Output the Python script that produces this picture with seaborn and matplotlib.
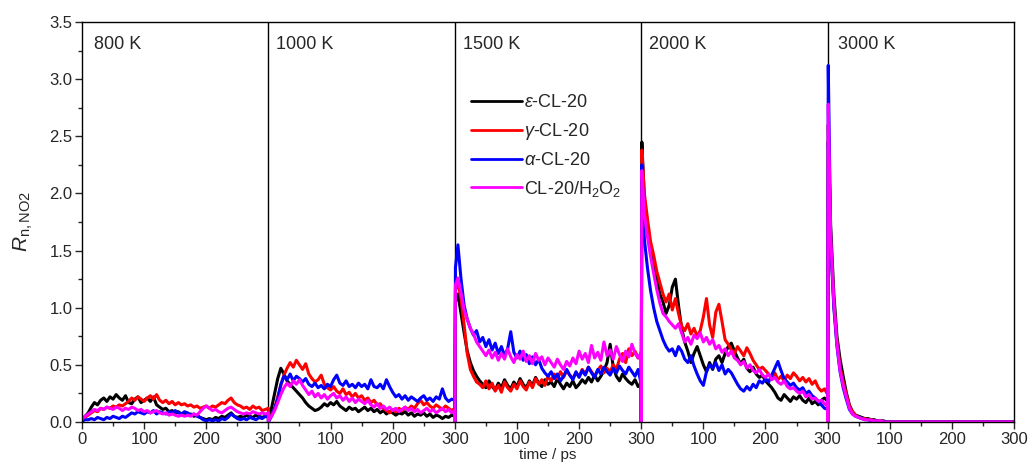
import numpy as np
import pandas as pd
import matplotlib
matplotlib.use("Agg")
import matplotlib.pyplot as plt
from matplotlib.ticker import MultipleLocator, FixedLocator, FormatStrFormatter
import seaborn as sns

# ---------------------------------------------------------------------------
# Data: R_n,NO2 versus simulation time for each temperature stage.
# Every stage runs 0-300 ps; samples at t = 0, 1, 5, 10, ..., 300 ps.
# ---------------------------------------------------------------------------
stage_labels = ["800 K", "1000 K", "1500 K", "2000 K", "3000 K"]
stage_length = 300
stage_time = [0, 1] + list(range(5, 301, 5))

series_names = [r"$\varepsilon$-CL-20", r"$\gamma$-CL-20", r"$\alpha$-CL-20",
                r"CL-20/H$\mathregular{_2}$O$\mathregular{_2}$"]
series_colors = ["#000000", "#ff0000", "#0000ff", "#ff00ff"]

# --- 800 K ---
eps_800 = [0.03, 0.03,
           0.05, 0.08, 0.13, 0.17, 0.15, 0.19, 0.21, 0.18, 0.22, 0.20,
           0.24, 0.21, 0.19, 0.23, 0.17, 0.16, 0.20, 0.22, 0.17, 0.19,
           0.21, 0.18, 0.22, 0.15, 0.13, 0.11, 0.12, 0.09, 0.10, 0.08,
           0.09, 0.07, 0.08, 0.06, 0.07, 0.05, 0.06, 0.04, 0.03, 0.02,
           0.03, 0.02, 0.04, 0.03, 0.05, 0.04, 0.06, 0.08, 0.05, 0.04,
           0.05, 0.04, 0.06, 0.05, 0.04, 0.06, 0.05, 0.04, 0.05, 0.06]
gam_800 = [0.02, 0.02,
           0.04, 0.06, 0.08, 0.10, 0.09, 0.12, 0.11, 0.13, 0.12, 0.14,
           0.13, 0.15, 0.14, 0.16, 0.18, 0.21, 0.19, 0.22, 0.20, 0.18,
           0.21, 0.23, 0.20, 0.24, 0.19, 0.17, 0.19, 0.16, 0.18, 0.15,
           0.17, 0.15, 0.16, 0.14, 0.15, 0.13, 0.14, 0.12, 0.13, 0.14,
           0.12, 0.14, 0.13, 0.15, 0.17, 0.16, 0.19, 0.21, 0.17, 0.15,
           0.14, 0.12, 0.13, 0.11, 0.14, 0.12, 0.13, 0.10, 0.11, 0.12]
alp_800 = [0.01, 0.01,
           0.02, 0.02, 0.03, 0.02, 0.04, 0.03, 0.02, 0.04, 0.03, 0.05,
           0.04, 0.03, 0.05, 0.04, 0.06, 0.08, 0.07, 0.09, 0.08, 0.07,
           0.09, 0.08, 0.10, 0.07, 0.09, 0.08, 0.07, 0.09, 0.08, 0.10,
           0.08, 0.07, 0.09, 0.08, 0.06, 0.07, 0.05, 0.04, 0.02, 0.01,
           0.02, 0.01, 0.02, 0.01, 0.03, 0.02, 0.04, 0.07, 0.05, 0.03,
           0.02, 0.03, 0.02, 0.04, 0.03, 0.02, 0.04, 0.03, 0.05, 0.04]
mag_800 = [0.02, 0.03,
           0.05, 0.07, 0.09, 0.11, 0.10, 0.12, 0.11, 0.13, 0.12, 0.11,
           0.13, 0.12, 0.10, 0.12, 0.11, 0.13, 0.12, 0.10, 0.11, 0.09,
           0.10, 0.08, 0.09, 0.10, 0.08, 0.07, 0.08, 0.06, 0.07, 0.06,
           0.05, 0.06, 0.05, 0.06, 0.05, 0.07, 0.06, 0.09, 0.12, 0.14,
           0.12, 0.10, 0.11, 0.09, 0.08, 0.10, 0.12, 0.13, 0.11, 0.09,
           0.08, 0.07, 0.08, 0.07, 0.09, 0.08, 0.07, 0.08, 0.07, 0.08]

# --- 1000 K ---
eps_1000 = [0.0, 0.03,
            0.12, 0.25, 0.38, 0.47, 0.42, 0.36, 0.33, 0.30, 0.27, 0.24,
            0.21, 0.17, 0.14, 0.12, 0.10, 0.11, 0.13, 0.16, 0.14, 0.17,
            0.15, 0.18, 0.14, 0.12, 0.10, 0.13, 0.11, 0.12, 0.09, 0.11,
            0.13, 0.10, 0.12, 0.09, 0.11, 0.08, 0.10, 0.07, 0.09, 0.08,
            0.06, 0.08, 0.07, 0.09, 0.06, 0.08, 0.05, 0.07, 0.06, 0.08,
            0.05, 0.07, 0.04, 0.06, 0.05, 0.03, 0.05, 0.04, 0.06, 0.05]
gam_1000 = [0.0, 0.02,
            0.06, 0.12, 0.22, 0.32, 0.41, 0.47, 0.52, 0.48, 0.54, 0.50,
            0.46, 0.51, 0.42, 0.38, 0.35, 0.37, 0.41, 0.33, 0.30, 0.28,
            0.31, 0.27, 0.25, 0.29, 0.24, 0.26, 0.22, 0.25, 0.21, 0.23,
            0.19, 0.21, 0.17, 0.19, 0.15, 0.16, 0.12, 0.10, 0.08, 0.11,
            0.09, 0.12, 0.10, 0.13, 0.11, 0.14, 0.12, 0.16, 0.19, 0.15,
            0.17, 0.14, 0.12, 0.15, 0.13, 0.11, 0.14, 0.12, 0.10, 0.12]
alp_1000 = [0.0, 0.01,
            0.05, 0.12, 0.20, 0.33, 0.40, 0.37, 0.42, 0.36, 0.40, 0.38,
            0.35, 0.38, 0.33, 0.31, 0.34, 0.30, 0.32, 0.29, 0.33, 0.31,
            0.37, 0.41, 0.34, 0.32, 0.36, 0.31, 0.33, 0.30, 0.34, 0.31,
            0.33, 0.29, 0.37, 0.31, 0.30, 0.33, 0.29, 0.37, 0.31, 0.26,
            0.22, 0.24, 0.20, 0.23, 0.19, 0.22, 0.20, 0.18, 0.21, 0.23,
            0.19, 0.21, 0.18, 0.22, 0.20, 0.29, 0.21, 0.18, 0.20, 0.19]
mag_1000 = [0.0, 0.02,
            0.05, 0.10, 0.17, 0.24, 0.30, 0.34, 0.31, 0.36, 0.33, 0.37,
            0.32, 0.28, 0.24, 0.27, 0.22, 0.25, 0.21, 0.24, 0.20, 0.23,
            0.25, 0.21, 0.23, 0.19, 0.22, 0.18, 0.21, 0.17, 0.20, 0.18,
            0.16, 0.19, 0.15, 0.13, 0.16, 0.12, 0.14, 0.11, 0.13, 0.10,
            0.12, 0.09, 0.11, 0.13, 0.10, 0.12, 0.09, 0.11, 0.08, 0.10,
            0.12, 0.09, 0.11, 0.08, 0.10, 0.12, 0.09, 0.11, 0.08, 0.10]

# --- 1500 K ---
eps_1500 = [0.0, 1.05,
            1.12, 0.95, 0.78, 0.62, 0.52, 0.45, 0.40, 0.36, 0.33, 0.30,
            0.36, 0.31, 0.28, 0.34, 0.30, 0.37, 0.32, 0.29, 0.35, 0.31,
            0.38, 0.33, 0.30, 0.36, 0.32, 0.39, 0.34, 0.31, 0.37, 0.33,
            0.35, 0.31, 0.38, 0.33, 0.29, 0.34, 0.31, 0.36, 0.30, 0.33,
            0.37, 0.34, 0.39, 0.35, 0.41, 0.36, 0.40, 0.45, 0.52, 0.68,
            0.48, 0.40, 0.36, 0.42, 0.38, 0.35, 0.33, 0.37, 0.31, 0.34]
gam_1500 = [0.0, 1.15,
            1.22, 1.08, 0.85, 0.60, 0.46, 0.40, 0.35, 0.33, 0.30, 0.36,
            0.29, 0.34, 0.27, 0.32, 0.26, 0.35, 0.30, 0.27, 0.33, 0.29,
            0.36, 0.31, 0.28, 0.35, 0.30, 0.38, 0.33, 0.37, 0.32, 0.40,
            0.36, 0.42, 0.38, 0.44, 0.39, 0.45, 0.41, 0.38, 0.43, 0.40,
            0.46, 0.42, 0.48, 0.44, 0.40, 0.45, 0.49, 0.43, 0.47, 0.44,
            0.50, 0.46, 0.55, 0.60, 0.52, 0.64, 0.58, 0.62, 0.56, 0.60]
alp_1500 = [0.0, 1.35,
            1.55, 1.25, 1.02, 0.90, 0.82, 0.76, 0.80, 0.70, 0.74, 0.66,
            0.72, 0.63, 0.69, 0.60, 0.66, 0.58, 0.64, 0.79, 0.61, 0.56,
            0.62, 0.54, 0.59, 0.51, 0.57, 0.50, 0.55, 0.47, 0.43, 0.40,
            0.44, 0.38, 0.42, 0.36, 0.40, 0.46, 0.41, 0.37, 0.44, 0.39,
            0.45, 0.41, 0.48, 0.43, 0.39, 0.46, 0.42, 0.48, 0.44, 0.41,
            0.47, 0.43, 0.49, 0.45, 0.42, 0.48, 0.44, 0.40, 0.46, 0.33]
mag_1500 = [0.0, 1.20,
            1.26, 1.13, 0.98, 0.90, 0.82, 0.77, 0.70, 0.66, 0.62, 0.58,
            0.63, 0.56, 0.61, 0.54, 0.60, 0.55, 0.64, 0.57, 0.52, 0.59,
            0.55, 0.62, 0.53, 0.58, 0.51, 0.60, 0.54, 0.57, 0.50, 0.56,
            0.52, 0.48, 0.55, 0.50, 0.46, 0.53, 0.49, 0.56, 0.51, 0.62,
            0.55, 0.60, 0.52, 0.67, 0.56, 0.61, 0.54, 0.70, 0.58, 0.63,
            0.55, 0.66, 0.59, 0.53, 0.62, 0.57, 0.68, 0.60, 0.56, 0.61]

# --- 2000 K ---
eps_2000 = [0.0, 2.45,
            1.95, 1.72, 1.52, 1.38, 1.25, 1.12, 1.05, 0.95, 1.02, 1.18,
            1.25, 1.02, 0.82, 0.70, 0.62, 0.52, 0.60, 0.66, 0.58, 0.50,
            0.44, 0.52, 0.46, 0.55, 0.58, 0.52, 0.60, 0.66, 0.69, 0.62,
            0.56, 0.51, 0.55, 0.47, 0.44, 0.48, 0.42, 0.39, 0.41, 0.36,
            0.33, 0.30, 0.26, 0.21, 0.19, 0.24, 0.21, 0.18, 0.22, 0.20,
            0.23, 0.19, 0.17, 0.21, 0.16, 0.18, 0.15, 0.19, 0.21, 0.18]
gam_2000 = [0.0, 2.38,
            2.00, 1.78, 1.58, 1.46, 1.32, 1.22, 1.12, 1.05, 1.12, 0.98,
            1.08, 0.95, 0.84, 0.80, 0.86, 0.77, 0.82, 0.75, 0.80, 0.92,
            1.08, 0.85, 0.74, 0.96, 1.03, 0.88, 0.72, 0.68, 0.63, 0.60,
            0.66, 0.62, 0.58, 0.65, 0.60, 0.54, 0.50, 0.46, 0.48, 0.45,
            0.42, 0.39, 0.43, 0.37, 0.40, 0.36, 0.41, 0.38, 0.43, 0.40,
            0.36, 0.39, 0.35, 0.38, 0.33, 0.36, 0.30, 0.27, 0.29, 0.24]
alp_2000 = [0.0, 2.25,
            1.60, 1.35, 1.15, 1.00, 0.88, 0.80, 0.72, 0.66, 0.62, 0.64,
            0.58, 0.66, 0.62, 0.55, 0.52, 0.58, 0.49, 0.42, 0.36, 0.32,
            0.44, 0.50, 0.47, 0.52, 0.45, 0.50, 0.42, 0.46, 0.43, 0.38,
            0.33, 0.29, 0.27, 0.31, 0.28, 0.33, 0.30, 0.36, 0.34, 0.38,
            0.35, 0.41, 0.47, 0.53, 0.45, 0.38, 0.35, 0.32, 0.34, 0.30,
            0.28, 0.30, 0.25, 0.27, 0.23, 0.21, 0.18, 0.15, 0.12, 0.11]
mag_2000 = [0.0, 2.20,
            1.82, 1.62, 1.45, 1.30, 1.16, 1.04, 0.95, 0.92, 0.88, 0.85,
            0.82, 0.86, 0.78, 0.70, 0.74, 0.68, 0.76, 0.73, 0.78, 0.70,
            0.74, 0.68, 0.72, 0.64, 0.67, 0.61, 0.64, 0.58, 0.62, 0.56,
            0.54, 0.50, 0.53, 0.47, 0.50, 0.45, 0.43, 0.46, 0.41, 0.39,
            0.42, 0.37, 0.39, 0.35, 0.33, 0.36, 0.31, 0.29, 0.30, 0.27,
            0.25, 0.27, 0.22, 0.24, 0.20, 0.21, 0.18, 0.19, 0.16, 0.14]

# --- 3000 K ---
eps_3000 = [0.0, 2.45,
            1.70, 1.12, 0.75, 0.55, 0.40, 0.26, 0.15, 0.09, 0.06, 0.05,
            0.04, 0.03, 0.03, 0.02, 0.02, 0.01, 0.01, 0.01, 0.00, 0.00,
            0.00, 0.00, 0.00, 0.00, 0.00, 0.00, 0.00, 0.00, 0.00, 0.00,
            0.00, 0.00, 0.00, 0.00, 0.00, 0.00, 0.00, 0.00, 0.00, 0.00,
            0.00, 0.00, 0.00, 0.00, 0.00, 0.00, 0.00, 0.00, 0.00, 0.00,
            0.00, 0.00, 0.00, 0.00, 0.00, 0.00, 0.00, 0.00, 0.00, 0.00]
gam_3000 = [0.0, 2.60,
            1.58, 1.02, 0.70, 0.48, 0.35, 0.24, 0.14, 0.09, 0.06, 0.04,
            0.03, 0.03, 0.02, 0.02, 0.01, 0.01, 0.01, 0.00, 0.00, 0.00,
            0.00, 0.00, 0.00, 0.00, 0.00, 0.00, 0.00, 0.00, 0.00, 0.00,
            0.00, 0.00, 0.00, 0.00, 0.00, 0.00, 0.00, 0.00, 0.00, 0.00,
            0.00, 0.00, 0.00, 0.00, 0.00, 0.00, 0.00, 0.00, 0.00, 0.00,
            0.00, 0.00, 0.00, 0.00, 0.00, 0.00, 0.00, 0.00, 0.00, 0.00]
alp_3000 = [0.0, 3.12,
            1.55, 1.00, 0.66, 0.44, 0.30, 0.20, 0.11, 0.07, 0.05, 0.04,
            0.03, 0.02, 0.02, 0.01, 0.01, 0.01, 0.00, 0.00, 0.00, 0.00,
            0.00, 0.00, 0.00, 0.00, 0.00, 0.00, 0.00, 0.00, 0.00, 0.00,
            0.00, 0.00, 0.00, 0.00, 0.00, 0.00, 0.00, 0.00, 0.00, 0.00,
            0.00, 0.00, 0.00, 0.00, 0.00, 0.00, 0.00, 0.00, 0.00, 0.00,
            0.00, 0.00, 0.00, 0.00, 0.00, 0.00, 0.00, 0.00, 0.00, 0.00]
mag_3000 = [0.0, 2.78,
            1.60, 1.05, 0.68, 0.45, 0.32, 0.22, 0.12, 0.07, 0.05, 0.04,
            0.03, 0.02, 0.02, 0.015, 0.01, 0.01, 0.01, 0.00, 0.00, 0.00,
            0.00, 0.00, 0.00, 0.00, 0.00, 0.00, 0.00, 0.00, 0.00, 0.00,
            0.00, 0.00, 0.00, 0.00, 0.00, 0.00, 0.00, 0.00, 0.00, 0.00,
            0.00, 0.00, 0.00, 0.00, 0.00, 0.00, 0.00, 0.00, 0.00, 0.00,
            0.00, 0.00, 0.00, 0.00, 0.00, 0.00, 0.00, 0.00, 0.00, 0.00]

stage_values = {
    series_names[0]: [eps_800, eps_1000, eps_1500, eps_2000, eps_3000],
    series_names[1]: [gam_800, gam_1000, gam_1500, gam_2000, gam_3000],
    series_names[2]: [alp_800, alp_1000, alp_1500, alp_2000, alp_3000],
    series_names[3]: [mag_800, mag_1000, mag_1500, mag_2000, mag_3000],
}

# Long table: stages laid end to end along one continuous time axis
rows = []
for name in series_names:
    for k, vals in enumerate(stage_values[name]):
        for t, v in zip(stage_time, vals):
            rows.append((name, k * stage_length + t, v))
df = pd.DataFrame(rows, columns=["system", "t_global", "R"])

# ---------------------------------------------------------------------------
sns.set_theme(style="ticks")
plt.rcParams["font.family"] = ["Liberation Sans", "DejaVu Sans"]
plt.rcParams["mathtext.fontset"] = "custom"
plt.rcParams["mathtext.rm"] = "Liberation Sans"
plt.rcParams["mathtext.it"] = "Liberation Sans:italic"
plt.rcParams["mathtext.bf"] = "Liberation Sans:bold"

fig = plt.figure(figsize=(10.34, 4.68), dpi=100)
ax = fig.add_axes([0.0793, 0.0983, 0.9014, 0.8547])

n_stage = len(stage_labels)
total = n_stage * stage_length

# stage separators
for k in range(1, n_stage):
    ax.axvline(k * stage_length, color="black", lw=1.0, zorder=1)

sns.lineplot(data=df, x="t_global", y="R", hue="system", hue_order=series_names,
             palette=series_colors, estimator=None, sort=False, lw=2.2,
             ax=ax, zorder=2)

ax.set_xlim(0, total)
ax.set_ylim(0, 3.5)

# x ticks restart at every stage: 0,100,200,300,100,...
xt = np.arange(0, total + 1, 100)
ax.xaxis.set_major_locator(FixedLocator(xt))
ax.set_xticklabels([("0" if t == 0 else str((t - 1) % stage_length + 1)) for t in xt])
ax.xaxis.set_minor_locator(FixedLocator(np.arange(50, total, 100)))
ax.yaxis.set_major_locator(MultipleLocator(0.5))
ax.yaxis.set_minor_locator(MultipleLocator(0.25))
ax.yaxis.set_major_formatter(FormatStrFormatter("%.1f"))

ax.tick_params(which="major", direction="out", length=5, width=1, labelsize=12,
               top=False, right=False, pad=2)
ax.tick_params(which="minor", direction="out", length=3, width=1,
               top=False, right=False)
for s in ax.spines.values():
    s.set_visible(True)
    s.set_linewidth(1.0)
    s.set_color("black")

ax.set_xlabel("time / ps", fontsize=11, labelpad=1)
ax.set_ylabel(r"$R_{\mathregular{n,NO2}}$", fontsize=15, labelpad=10)

# stage temperature labels
label_offsets = [20, 13, 13, 13, 16]
for k, (lab, off) in enumerate(zip(stage_labels, label_offsets)):
    ax.text(k * stage_length + off, 3.30, lab, fontsize=13, va="center", ha="left")

leg = ax.legend(loc="upper left", bbox_to_anchor=(0.41, 0.838), frameon=False,
                fontsize=13, handlelength=2.8, handletextpad=0.1,
                labelspacing=0.55, borderaxespad=0)
for h in leg.get_lines():
    h.set_linewidth(2.0)

fig.savefig("out.png", dpi=100)
